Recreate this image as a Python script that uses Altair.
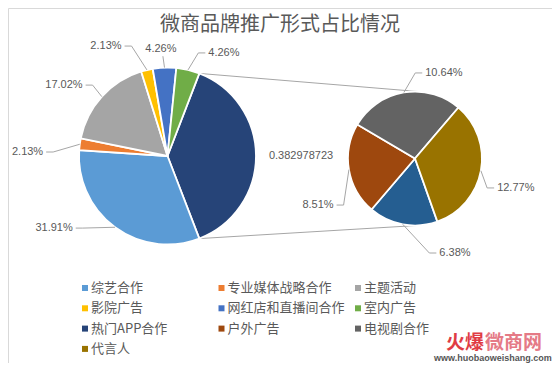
import math
import altair as alt
import pandas as pd

# ---------------- data ----------------
TITLE = "微商品牌推广形式占比情况"
CATEGORIES = ["综艺合作", "专业媒体战略合作", "主题活动", "影院广告", "网红店和直播间合作",
              "室内广告", "热门APP合作", "户外广告", "电视剧合作", "代言人"]
SHARES = [31.91, 2.13, 17.02, 2.13, 4.26, 4.26, 6.38, 8.51, 10.64, 12.77]
LEGEND_COLORS = ["#5B9BD5", "#ED7D31", "#A5A5A5", "#FFC000", "#4472C4",
                 "#70AD47", "#264478", "#9E480E", "#636363", "#997300"]
SECOND_SLICE_COLORS = ["#255E91", "#9E480E", "#636363", "#997300"]
OTHER_COLOR = "#264478"
OTHER_LABEL = "0.382978723"
WATERMARK_A = "火爆"
WATERMARK_B = "微商网"
WATERMARK_URL = "www.huobaoweishang.com"

# ---------------- layout ----------------
W, H = 544, 355
MAIN_C = (159.5, 148.0)
MAIN_R = 88.5
SEC_C = (407.0, 150.5)
SEC_R = 67.0
SEC_START = 160.5  # degrees, clockwise from 12 o'clock
# label placement: (angle nudge from slice mid-angle in degrees, distance from centre in px)
MAIN_LABEL_PLACE = [(0.0, 133.5), (21.2, 134.4), (-6.0, 140.0), (-7.7, 125.5),
                    (-15.8, 126.0), (-1.6, 107.0), (15.3, 117.5)]
SEC_LABEL_PLACE = [(-33.4, 102.6), (-16.1, 107.6), (28.2, 90.3), (5.8, 105.0)]
LABEL_FONT = "Liberation Sans"
LABEL_SIZE = 11
CJK = "Noto Sans CJK SC"
GREY_TEXT = "#595959"
LINE_GREY = "#A6A6A6"


def polar(c, ang_deg, d):
    a = math.radians(ang_deg)
    return (c[0] + d * math.sin(a), c[1] - d * math.cos(a))


def text_width(s, size):
    w = 0.0
    for ch in s:
        if ch.isdigit():
            w += 0.556
        elif ch == ".":
            w += 0.278
        elif ch == "%":
            w += 0.889
        else:
            w += 0.6
    return w * size


# main pie: "other" slice first, then the first six categories
other_val = sum(SHARES[6:])
main_names = ["其他"] + CATEGORIES[:6]
main_vals = [other_val] + SHARES[:6]
main_cols = [OTHER_COLOR] + LEGEND_COLORS[:6]
main_texts = [OTHER_LABEL] + [f"{v:.2f}%" for v in SHARES[:6]]
main_total = sum(main_vals)
main_start = 90.0 - other_val / main_total * 180.0

sec_names = CATEGORIES[6:]
sec_vals = SHARES[6:]
sec_texts = [f"{v:.2f}%" for v in sec_vals]
sec_total = sum(sec_vals)


def mids(vals, total, start):
    out, acc = [], start
    for v in vals:
        span = v / total * 360.0
        out.append(acc + span / 2.0)
        acc += span
    return out


main_mids = mids(main_vals, main_total, main_start)
sec_mids = mids(sec_vals, sec_total, SEC_START)

main_df = pd.DataFrame({"name": main_names, "value": main_vals, "color": main_cols,
                        "ord": list(range(len(main_vals)))})
sec_df = pd.DataFrame({"name": sec_names, "value": sec_vals, "color": SECOND_SLICE_COLORS,
                       "ord": list(range(len(sec_vals)))})

# labels + leader lines
label_rows, leader_rows = [], []
lid = 0


def add_labels(center, radius, mids_, texts, places, skip_leader_first=False):
    global lid
    for i, (m, t, (dth, dist)) in enumerate(zip(mids_, texts, places)):
        lx, ly = polar(center, m + dth, dist)
        label_rows.append({"x": lx, "y": ly, "t": t})
        if skip_leader_first and i == 0:
            continue
        ex, ey = polar(center, m, radius)
        hw = text_width(t, LABEL_SIZE) / 2.0
        if ex < lx - hw:
            pts = [(lx - hw - 3, ly), (lx - hw - 10, ly), (ex, ey)]
        elif ex > lx + hw:
            pts = [(lx + hw + 3, ly), (lx + hw + 10, ly), (ex, ey)]
        else:
            sy = ly + 7 if ly < ey else ly - 7
            pts = [(lx + 2, sy), (ex, ey)]
        for k, (px, py) in enumerate(pts):
            leader_rows.append({"id": lid, "seq": k, "x": px, "y": py})
        lid += 1


add_labels(MAIN_C, MAIN_R, main_mids, main_texts, MAIN_LABEL_PLACE, skip_leader_first=True)
add_labels(SEC_C, SEC_R, sec_mids, sec_texts, SEC_LABEL_PLACE)
labels_df = pd.DataFrame(label_rows)
leaders_df = pd.DataFrame(leader_rows)


# connector (tangent) lines between the "other" slice and the secondary pie
def tangent(p, c, r, top):
    dx, dy = p[0] - c[0], p[1] - c[1]
    d = math.hypot(dx, dy)
    base = math.atan2(dy, dx)
    off = math.acos(r / d)
    cands = [(c[0] + r * math.cos(base + s * off), c[1] + r * math.sin(base + s * off)) for s in (1, -1)]
    return min(cands, key=lambda q: q[1]) if top else max(cands, key=lambda q: q[1])


other_span = other_val / main_total * 360.0
p_top = polar(MAIN_C, main_start, MAIN_R)
p_bot = polar(MAIN_C, main_start + other_span, MAIN_R)
t_top = tangent(p_top, SEC_C, SEC_R, True)
t_bot = tangent(p_bot, SEC_C, SEC_R, False)
conn_df = pd.DataFrame([
    {"id": 0, "seq": 0, "x": p_top[0], "y": p_top[1]},
    {"id": 0, "seq": 1, "x": t_top[0], "y": t_top[1]},
    {"id": 1, "seq": 0, "x": p_bot[0], "y": p_bot[1]},
    {"id": 1, "seq": 1, "x": t_bot[0], "y": t_bot[1]},
])

# legend grid (3 columns, row-major)
LEG_X0, LEG_Y0, LEG_DX, LEG_DY = 77.0, 280.0, 136.5, 20.3
legend_df = pd.DataFrame({
    "name": CATEGORIES,
    "color": LEGEND_COLORS,
    "x": [LEG_X0 + (i % 3) * LEG_DX for i in range(len(CATEGORIES))],
    "y": [LEG_Y0 + (i // 3) * LEG_DY for i in range(len(CATEGORIES))],
})

PX = dict(scale=None, axis=None)

connectors = alt.Chart(conn_df).mark_line(color=LINE_GREY, strokeWidth=1).encode(
    x=alt.X("x:Q", **PX), y=alt.Y("y:Q", **PX), detail="id:N", order="seq:Q")

main_arc = alt.Chart(main_df).mark_arc(radius=MAIN_R, stroke="white", strokeWidth=1.8).encode(
    theta=alt.Theta("value:Q", stack=True,
                    scale=alt.Scale(domain=[0, main_total],
                                    range=[math.radians(main_start), math.radians(main_start) + 2 * math.pi])),
    order=alt.Order("ord:Q"),
    color=alt.Color("color:N", scale=None),
    x=alt.value(MAIN_C[0]), y=alt.value(MAIN_C[1]),
)

sec_arc = alt.Chart(sec_df).mark_arc(radius=SEC_R, stroke="white", strokeWidth=1.8).encode(
    theta=alt.Theta("value:Q", stack=True,
                    scale=alt.Scale(domain=[0, sec_total],
                                    range=[math.radians(SEC_START), math.radians(SEC_START) + 2 * math.pi])),
    order=alt.Order("ord:Q"),
    color=alt.Color("color:N", scale=None),
    x=alt.value(SEC_C[0]), y=alt.value(SEC_C[1]),
)

leaders = alt.Chart(leaders_df).mark_line(color=LINE_GREY, strokeWidth=1).encode(
    x=alt.X("x:Q", **PX), y=alt.Y("y:Q", **PX), detail="id:N", order="seq:Q")

labels = alt.Chart(labels_df).mark_text(font=LABEL_FONT, fontSize=LABEL_SIZE, color=GREY_TEXT,
                                        align="center", baseline="middle").encode(
    x=alt.X("x:Q", **PX), y=alt.Y("y:Q", **PX), text="t:N")

leg_sw = alt.Chart(legend_df).mark_square(size=36, opacity=1).encode(
    x=alt.X("x:Q", **PX), y=alt.Y("y:Q", **PX), color=alt.Color("color:N", scale=None))

leg_txt = alt.Chart(legend_df).mark_text(font=CJK, fontSize=13, color=GREY_TEXT, align="left",
                                         baseline="middle", dx=6).encode(
    x=alt.X("x:Q", **PX), y=alt.Y("y:Q", **PX), text="name:N")

title = alt.Chart(pd.DataFrame({"t": [TITLE]})).mark_text(
    font=CJK, fontSize=20, color=GREY_TEXT, align="center", baseline="middle").encode(
    x=alt.value(W / 2), y=alt.value(17), text="t:N")

wm_a = alt.Chart(pd.DataFrame({"t": [WATERMARK_A]})).mark_text(
    font=CJK, fontSize=19, fontWeight="bold", color="#E03C44", align="left", baseline="middle").encode(
    x=alt.value(438), y=alt.value(335), text="t:N")
wm_b = alt.Chart(pd.DataFrame({"t": [WATERMARK_B]})).mark_text(
    font=CJK, fontSize=19, fontWeight="bold", color="#E57A86", align="left", baseline="middle").encode(
    x=alt.value(477), y=alt.value(335), text="t:N")
wm_url = alt.Chart(pd.DataFrame({"t": [WATERMARK_URL]})).mark_text(
    font="Liberation Sans", fontSize=9, fontWeight="bold", color="#555555", align="left",
    baseline="middle").encode(x=alt.value(426), y=alt.value(350), text="t:N")

chart = alt.layer(
    connectors, main_arc, sec_arc, leaders, labels, leg_sw, leg_txt, title, wm_a, wm_b, wm_url
).resolve_scale(theta="independent").properties(
    width=W, height=H, autosize=alt.AutoSizeParams(type="none"), padding=0
).configure_view(stroke="#D9D9D9", strokeWidth=1)

chart.save("out.html", embed_options={"renderer": "svg", "actions": False})
